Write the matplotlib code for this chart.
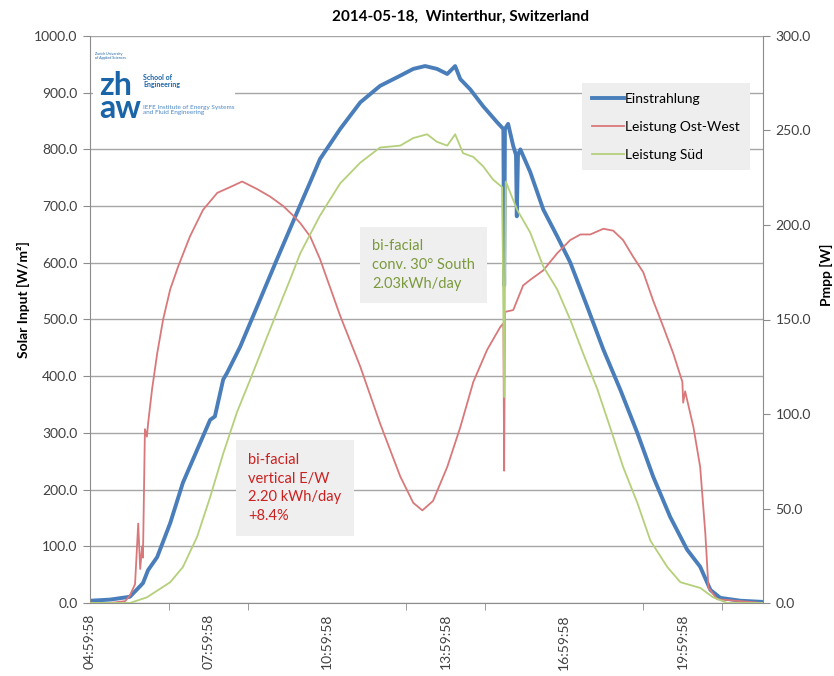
import matplotlib.pyplot as plt
from matplotlib.lines import Line2D
from matplotlib.patches import Rectangle

plt.rcParams['font.family'] = ['Lato', 'DejaVu Sans']

W, H = 834, 676

# time of day in hours
irr_t = [5.00, 5.51, 6.01, 6.34, 6.47, 6.70, 7.03, 7.35, 7.71, 8.04, 8.16, 8.37, 8.47,
         8.80, 9.23, 9.73, 10.24, 10.57, 10.82, 11.33, 11.84, 12.34, 12.85, 13.18, 13.48,
         13.78, 14.04, 14.24, 14.37, 14.62, 14.95, 15.30, 15.46, 15.48, 15.50, 15.58, 15.71,
         15.78, 15.80, 15.83, 15.89, 16.14, 16.47, 16.82, 17.15, 17.58, 17.99, 18.42, 18.85,
         19.25, 19.68, 20.11, 20.44, 20.70, 20.95, 21.46, 22.01]
irr_v = [4, 6, 11, 35, 58, 81, 141, 212, 270, 323, 329, 394, 406,
         452, 523, 606, 689, 742, 783, 836, 883, 912, 930, 942, 947,
         942, 933, 947, 924, 906, 876, 848, 836, 560, 836, 845, 806,
         790, 682, 790, 800, 760, 694, 647, 601, 523, 447, 376, 300,
         223, 152, 94, 64, 23, 9, 4, 2]

ow_t = [5.00, 5.51, 5.89, 6.01, 6.14, 6.22, 6.27, 6.32, 6.34, 6.39, 6.44, 6.47, 6.57,
        6.70, 6.85, 7.03, 7.23, 7.53, 7.86, 8.22, 8.54, 8.85, 9.23, 9.56, 9.89, 10.14,
        10.32, 10.57, 10.82, 11.33, 11.84, 12.34, 12.85, 13.18, 13.41, 13.68, 14.04, 14.37,
        14.70, 15.05, 15.38, 15.46, 15.48, 15.50, 15.71, 15.96, 16.14, 16.47, 16.82, 17.15,
        17.41, 17.66, 17.99, 18.24, 18.49, 18.75, 19.00, 19.25, 19.51, 19.76, 19.99, 20.01,
        20.06, 20.27, 20.44, 20.57, 20.65, 20.87, 22.01]
ow_v = [0, 0, 1, 4, 10, 42, 18, 30, 24, 92, 88, 95, 113,
        132, 150, 166, 178, 194, 208, 217, 220, 223, 219, 215, 210, 205,
        201, 194, 182, 152, 125, 95, 67, 53, 49, 54, 72, 93,
        117, 134, 146, 148, 70, 154, 155, 168, 171, 176, 185, 192,
        195, 195, 198, 197, 192, 183, 175, 160, 146, 132, 117, 106,
        112, 93, 72, 37, 8, 2, 0]

sued_t = [5.00, 6.01, 6.44, 7.03, 7.35, 7.71, 8.04, 8.37, 8.72, 9.05, 9.56, 10.06, 10.32,
          10.82, 11.33, 11.84, 12.34, 12.85, 13.18, 13.53, 13.78, 14.04, 14.24, 14.44, 14.70,
          14.95, 15.20, 15.43, 15.48, 15.52, 15.81, 16.14, 16.47, 16.82, 17.15, 17.48, 17.84,
          18.16, 18.49, 18.85, 19.18, 19.61, 19.94, 20.44, 20.77, 21.13, 22.01]
sued_v = [0, 0, 3, 11, 19, 35, 56, 79, 101, 118, 145, 171, 185,
          205, 222, 233, 241, 242, 246, 248, 244, 242, 248, 238, 236,
          231, 224, 220, 109, 223, 208, 196, 178, 166, 150, 132, 113,
          93, 72, 53, 33, 19, 11, 8, 3, 0, 0]

tick_pos = [5, 8, 11, 14, 17, 20]
tick_labels = ['04:59:58', '07:59:58', '10:59:58', '13:59:58', '16:59:58', '19:59:58']
minor_pos = [5, 7, 9, 11, 13, 15, 17, 19, 21]

c_irr = '#4a7ebb'
c_ow = '#d9787a'
c_sued = '#b5d07a'
c_axis = '#8c8c8c'


def fx(x):
    return x / W


def fy(y):
    return 1 - y / H


fig = plt.figure(figsize=(W / 100, H / 100), dpi=100)
ax = fig.add_axes([fx(90), fy(603), fx(763) - fx(90), fy(36) - fy(603)])
ax2 = ax.twinx()

ax.plot(irr_t, irr_v, color=c_irr, lw=2.8, solid_joinstyle='round')
ax2.plot(ow_t, ow_v, color=c_ow, lw=1.3)
ax2.plot(sued_t, sued_v, color=c_sued, lw=1.3)

ax.set_xlim(5.0, 22.03)
ax.set_ylim(0, 1000)
ax2.set_ylim(0, 300)
ax.set_yticks(range(0, 1001, 100))
ax2.set_yticks(range(0, 301, 50))
ax.set_yticklabels(['%.1f' % v for v in range(0, 1001, 100)], fontsize=10, color='#404040')
ax2.set_yticklabels(['%.1f' % v for v in range(0, 301, 50)], fontsize=10, color='#404040')
ax.set_xticks(tick_pos)
ax.set_xticklabels(tick_labels, rotation=90, fontsize=10, color='#404040')
ax.set_xticks(minor_pos, minor=True)
ax.tick_params(axis='x', which='major', length=0, pad=8)
ax.tick_params(axis='x', which='minor', length=5, color=c_axis)
ax.tick_params(axis='y', length=5, color=c_axis, pad=4)
ax2.tick_params(axis='y', length=5, color=c_axis, pad=4)

ax.yaxis.grid(True, color='#a6a6a6', lw=1)
ax.set_axisbelow(True)
for a in (ax, ax2):
    a.spines['top'].set_visible(False)
    for s in ('left', 'bottom', 'right'):
        a.spines[s].set_color(c_axis)
ax.spines['right'].set_visible(False)
ax2.spines['left'].set_visible(False)
ax2.spines['bottom'].set_visible(False)

fig.text(fx(460), fy(17), '2014-05-18,  Winterthur, Switzerland', fontsize=11,
         fontweight='bold', ha='center', va='center')
fig.text(fx(23), fy(300), 'Solar Input [W/m²]', rotation=90, fontsize=10,
         fontweight='bold', ha='center', va='center')
fig.text(fx(826), fy(275), 'Pmpp [W]', rotation=90, fontsize=10,
         fontweight='bold', ha='center', va='center')

# legend
handles = [Line2D([], [], color=c_irr, lw=2.8), Line2D([], [], color=c_ow, lw=1.3),
           Line2D([], [], color=c_sued, lw=1.3)]
leg = fig.legend(handles, ['Einstrahlung', 'Leistung Ost-West', 'Leistung Süd'],
                 loc='upper left', bbox_to_anchor=(fx(582), fy(83)), borderaxespad=0,
                 fontsize=10, frameon=True, fancybox=False, handlelength=2.3,
                 handletextpad=0.1, labelspacing=1.15, borderpad=0.7)
leg.get_frame().set_facecolor('#eeeeee')
leg.get_frame().set_edgecolor('none')
leg.get_frame().set_alpha(1)

# annotation boxes
fig.text(fx(372), fy(265), 'bi-facial\nconv. 30° South\n2.03kWh/day', fontsize=10.5,
         color='#7a9a3c', ha='left', va='center', linespacing=1.45,
         bbox=dict(boxstyle='square,pad=0.85', fc='#efefef', ec='none'))
fig.text(fx(248), fy(488), 'bi-facial\nvertical E/W\n2.20 kWh/day\n+8.4%', fontsize=10.5,
         color='#cc2020', ha='left', va='center', linespacing=1.45,
         bbox=dict(boxstyle='square,pad=0.85', fc='#efefef', ec='none'))

# logo
fig.patches.append(Rectangle((fx(93), fy(127)), fx(235) - fx(93), fy(47) - fy(127),
                             transform=fig.transFigure, fc='white', ec='none', zorder=2))
logo_blue = '#1a64a8'
fig.text(fx(99), fy(97), 'zh\naw', fontsize=23, fontweight='bold', color=logo_blue,
         va='center', ha='left', linespacing=0.72, zorder=3)
fig.text(fx(95), fy(56), 'Zurich University\nof Applied Sciences', fontsize=2.6,
         color=logo_blue, va='center', ha='left', zorder=3)
fig.text(fx(143), fy(81), 'School of\nEngineering', fontsize=5, fontweight='bold',
         color=logo_blue, va='center', ha='left', linespacing=1.0, zorder=3)
fig.text(fx(143), fy(110), 'IEFE Institute of Energy Systems\nand Fluid Engineering',
         fontsize=4.6, color='#4a86c5', va='center', ha='left', linespacing=1.05, zorder=3)

fig.savefig('out.png', dpi=100)
